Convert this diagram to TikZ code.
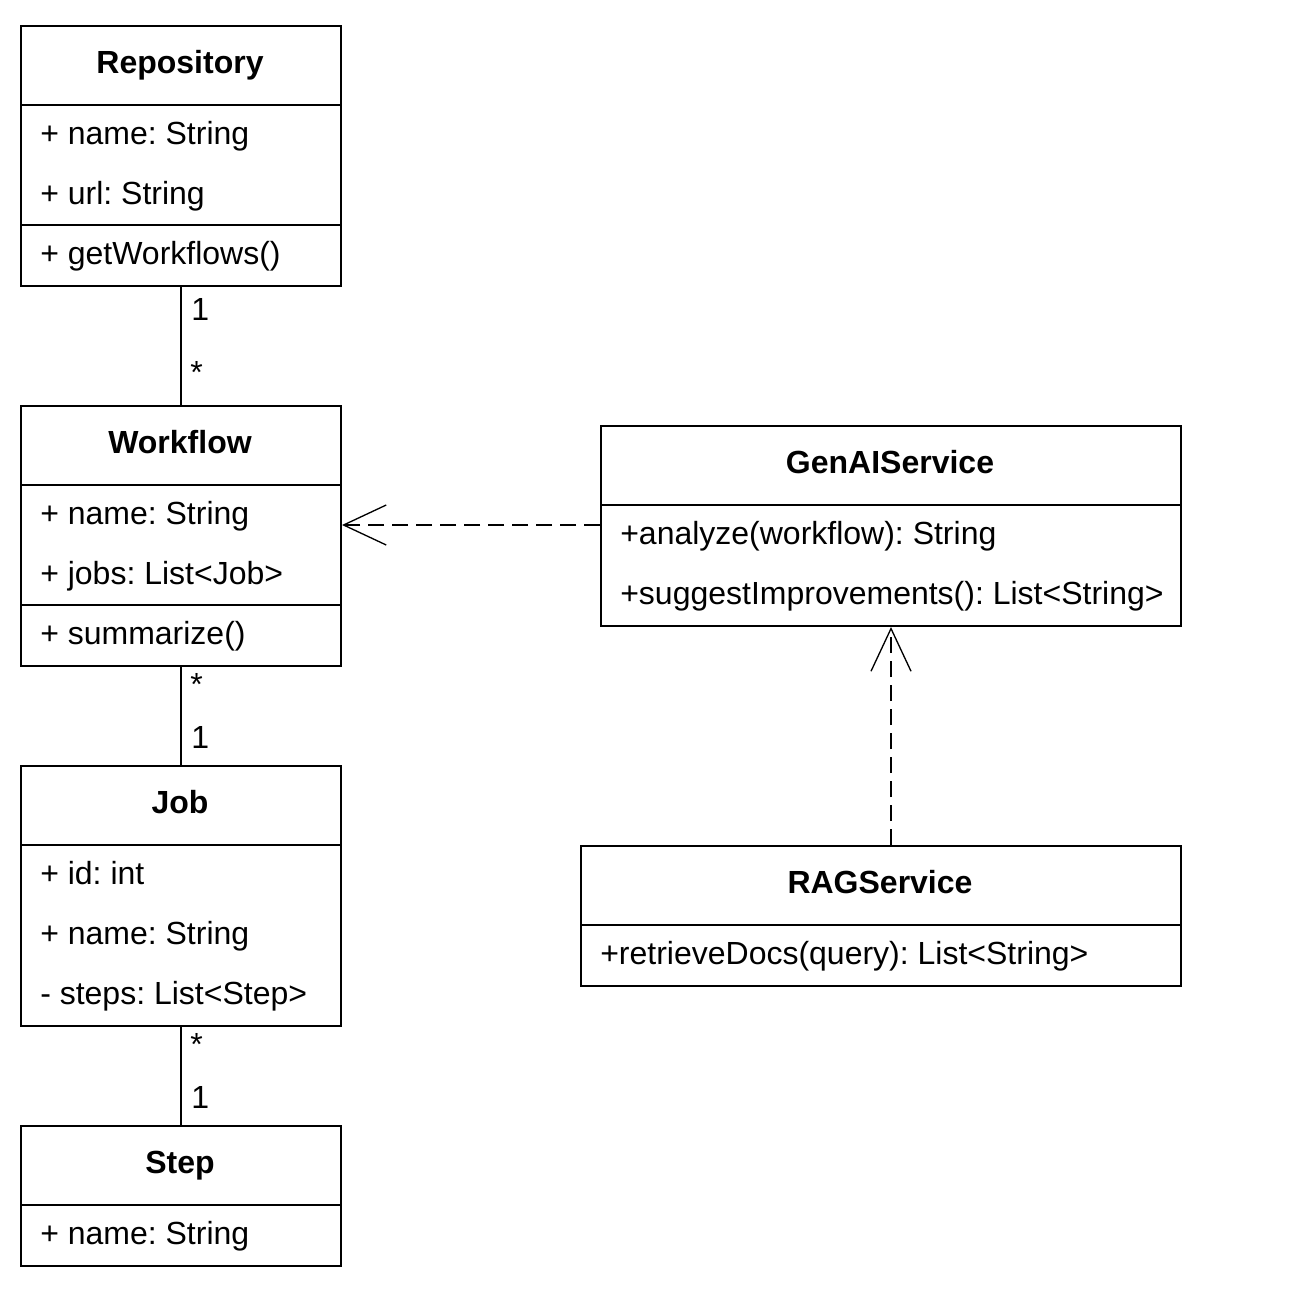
\documentclass[tikz,border=0pt]{standalone}
\usepackage{fontspec}
\setmainfont{Liberation Sans}
\usetikzlibrary{arrows.meta}
\frenchspacing
\begin{document}
\begin{tikzpicture}[x=0.75pt,y=-0.75pt,
  box/.style={draw,line width=1.5pt,minimum width=#1*0.75pt,inner sep=0pt,anchor=north west},
  ttl/.style={font=\fontsize{24}{28}\selectfont\bfseries,anchor=base,inner sep=0pt},
  txt/.style={font=\fontsize{24}{28}\selectfont,anchor=base west,inner sep=0pt},
  mult/.style={font=\fontsize{24}{28}\selectfont,anchor=base west,inner sep=0pt},
  sep/.style={line width=1.5pt},
  assoc/.style={line width=1.5pt},
  dep/.style={line width=1.5pt,dash pattern=on 12pt off 6pt,-{Straight Barb[length=32pt,width=30pt,line width=1pt]}}]
\useasboundingbox (0,0) rectangle (1313,1299);
% Repository
\node[box=320,minimum height=195pt] (repo) at (20,25) {};
\draw[sep] (20,105) -- (340,105);
\draw[sep] (20,225) -- (340,225);
\node[ttl] (repot) at (180,73) {Repository};
\node[txt] (repo1) at (40,144) {+ name: String};
\node[txt] (repo2) at (40,204) {+ url: String};
\node[txt] (repo3) at (40,264) {+ getWorkflows()};
% Workflow
\node[box=320,minimum height=195pt] (wf) at (20,405) {};
\draw[sep] (20,485) -- (340,485);
\draw[sep] (20,605) -- (340,605);
\node[ttl] (wft) at (180,453) {Workflow};
\node[txt] (wf1) at (40,524) {+ name: String};
\node[txt] (wf2) at (40,584) {+ jobs: List<Job>};
\node[txt] (wf3) at (40,644) {+ summarize()};
% Job
\node[box=320,minimum height=195pt] (job) at (20,765) {};
\draw[sep] (20,845) -- (340,845);
\node[ttl] (jobt) at (180,813) {Job};
\node[txt] (job1) at (40,884) {+ id: int};
\node[txt] (job2) at (40,944) {+ name: String};
\node[txt] (job3) at (40,1004) {- steps: List<Step>};
% Step
\node[box=320,minimum height=105pt] (step) at (20,1125) {};
\draw[sep] (20,1205) -- (340,1205);
\node[ttl] (stept) at (180,1173) {Step};
\node[txt] (step1) at (40,1244) {+ name: String};
% GenAIService
\node[box=580,minimum height=150pt] (gen) at (600,425) {};
\draw[sep] (600,505) -- (1180,505);
\node[ttl] (gent) at (890,473) {GenAIService};
\node[txt] (gen1) at (620,544) {+analyze(workflow): String};
\node[txt] (gen2) at (620,604) {+suggestImprovements(): List<String>};
% RAGService
\node[box=600,minimum height=105pt] (rag) at (580,845) {};
\draw[sep] (580,925) -- (1180,925);
\node[ttl] (ragt) at (880,893) {RAGService};
\node[txt] (rag1) at (600,964) {+retrieveDocs(query): List<String>};
% associations
\draw[assoc] (repo.south) -- (wf.north);
\node[mult] at (191,320) {1};
\node[mult] at (190,383) {*};
\draw[assoc] (wf.south) -- (job.north);
\node[mult] at (190,695) {*};
\node[mult] at (191,748) {1};
\draw[assoc] (job.south) -- (step.north);
\node[mult] at (190,1055) {*};
\node[mult] at (191,1108) {1};
% dependencies
\draw[dep] (gen.west |- 0,525) -- (wf.east |- 0,525);
\draw[dep] (rag.north -| gen.south) -- (gen.south);
\end{tikzpicture}
\end{document}
